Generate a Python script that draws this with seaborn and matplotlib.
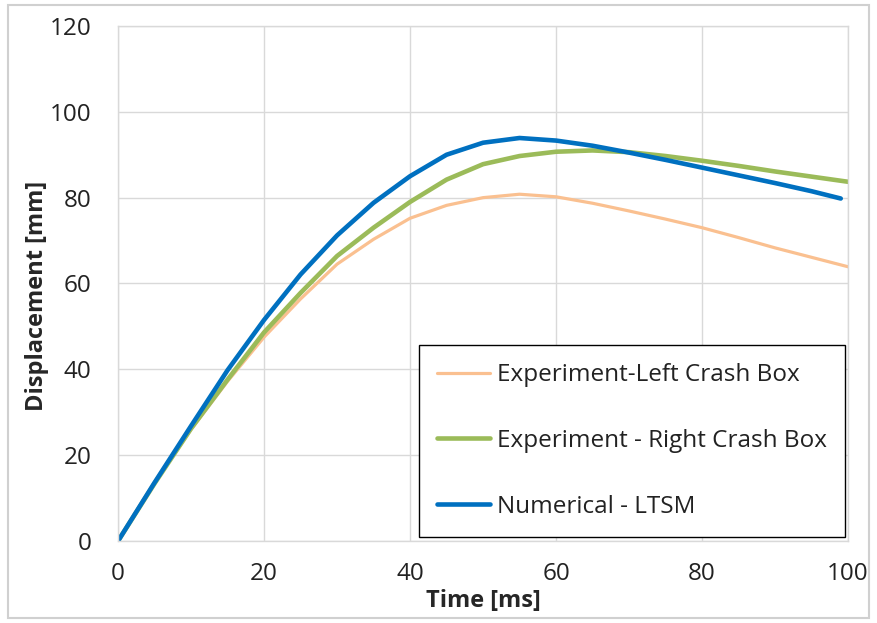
import numpy as np
import pandas as pd
import matplotlib
matplotlib.use("Agg")
import matplotlib.pyplot as plt
import seaborn as sns

# values
time_ms = [0, 5, 10, 15, 20, 25, 30, 35, 40, 45, 50, 55, 60, 65, 70, 75, 80, 85, 90, 95, 100]
left_box = [0, 13.4, 26.0, 37.2, 47.5, 56.4, 64.5, 70.3, 75.2, 78.2, 80.0, 80.8, 80.2,
            78.7, 76.9, 75.0, 73.0, 70.7, 68.3, 66.1, 63.9]
right_box = [0, 13.4, 26.2, 37.6, 48.6, 57.8, 66.4, 73.0, 79.0, 84.2, 87.8, 89.7, 90.7,
             91.0, 90.6, 89.7, 88.6, 87.4, 86.1, 84.9, 83.7]
time_num = [0, 5, 10, 15, 20, 25, 30, 35, 40, 45, 50, 55, 60, 65, 70, 75, 80, 85, 90, 95, 99]
numerical = [0, 13.6, 26.8, 39.8, 51.5, 62.1, 71.2, 78.8, 85.0, 90.0, 92.8, 93.9, 93.3,
             92.1, 90.5, 88.8, 87.0, 85.2, 83.4, 81.5, 79.8]

labels = ["Experiment-Left Crash Box", "Experiment - Right Crash Box", "Numerical - LTSM"]
colors = ["#FAC090", "#9BBB59", "#0070C0"]
widths = [2.3, 3.3, 3.3]

sns.set_style("white")
plt.rcParams['font.family'] = ['Open Sans', 'DejaVu Sans']

fig = plt.figure(figsize=(8.77, 6.23), dpi=100)
fig.patches.append(plt.Rectangle((0.009, 0.008), 0.982, 0.984, transform=fig.transFigure,
                                 fill=False, edgecolor="#d0d0d0", linewidth=1.5))
ax = fig.add_axes([0.1346, 0.1316, 0.8324, 0.8267])

series = [(time_ms, left_box), (time_ms, right_box), (time_num, numerical)]
for (t, d), lab, c, w in zip(series, labels, colors, widths):
    df = pd.DataFrame({"t": t, "d": d})
    sns.lineplot(data=df, x="t", y="d", ax=ax, color=c, linewidth=w, label=lab)

ax.set_xlim(0, 100)
ax.set_ylim(0, 120)
ax.set_xticks(np.arange(0, 101, 20))
ax.set_yticks(np.arange(0, 121, 20))
ax.grid(True, color="#d9d9d9", linewidth=1)
ax.set_axisbelow(True)
for s in ax.spines.values():
    s.set_color("#d9d9d9")
    s.set_linewidth(1)
ax.tick_params(axis="both", length=0, labelsize=17.5, colors="#222222")
ax.tick_params(axis="x", pad=15)
ax.tick_params(axis="y", pad=19)
ax.set_xlabel("Time [ms]", fontsize=17, fontweight="bold", labelpad=2)
ax.set_ylabel("Displacement [mm]", fontsize=17, fontweight="bold")
ax.yaxis.set_label_coords(-0.095, 0.476)

leg = ax.legend(loc="lower right", bbox_to_anchor=(0.996, 0.008), fontsize=17.5,
                frameon=True, fancybox=False, edgecolor="black", framealpha=1,
                labelspacing=1.72, handlelength=2.15, handletextpad=0.3,
                borderpad=0.75, borderaxespad=0)
leg.get_frame().set_linewidth(1)
for txt in leg.get_texts():
    txt.set_color("#222222")

fig.savefig("out.png", dpi=100)
